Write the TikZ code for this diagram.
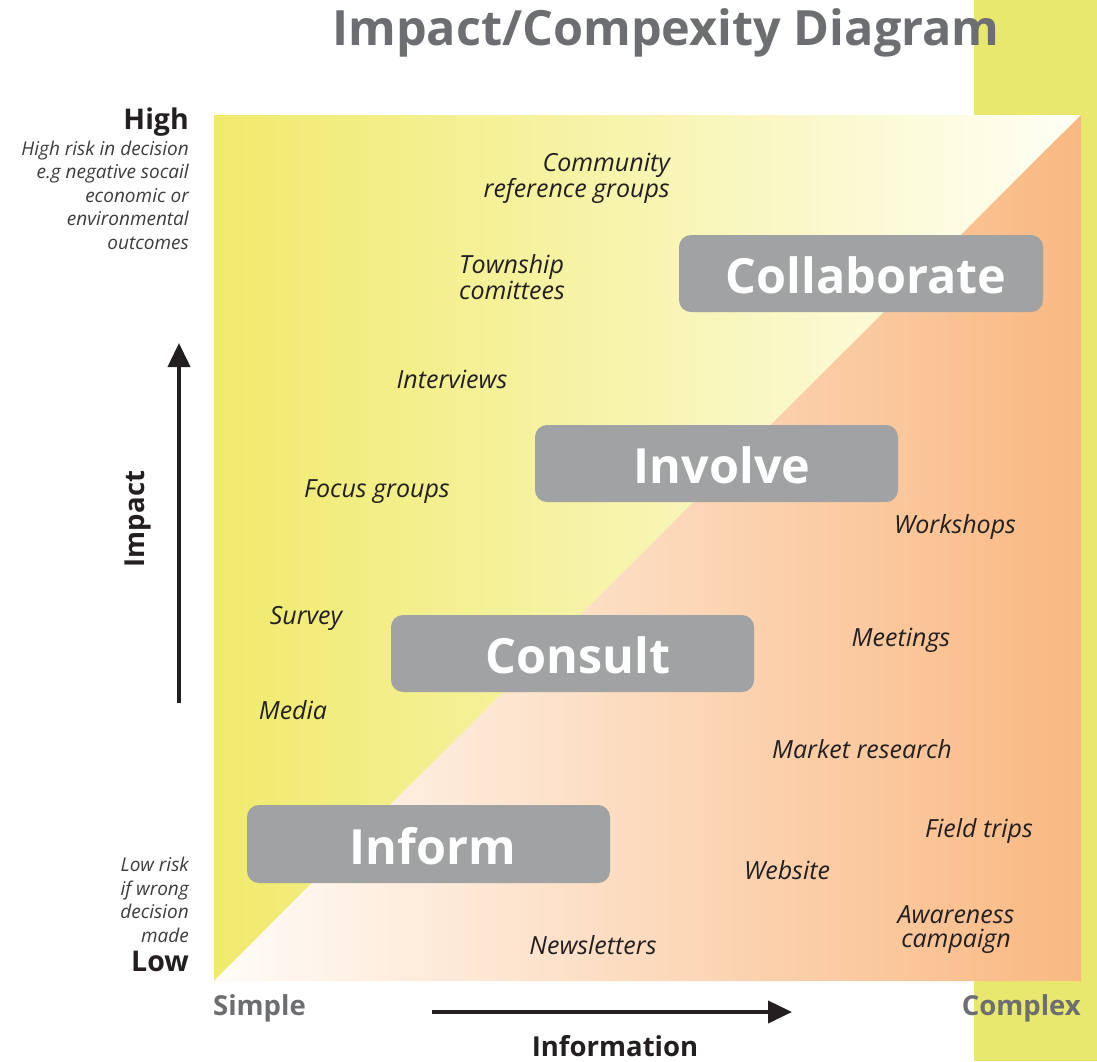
\documentclass[tikz,border=0pt]{standalone}
\usepackage{fontspec}
\setmainfont{Open Sans}
\usetikzlibrary{arrows.meta}
\definecolor{yelL}{RGB}{240,234,108}
\definecolor{yelR}{RGB}{255,255,246}
\definecolor{orL}{RGB}{255,252,248}
\definecolor{orR}{RGB}{249,184,130}
\definecolor{band}{RGB}{232,231,110}
\definecolor{boxgray}{RGB}{160,162,164}
\definecolor{titlegray}{RGB}{109,110,113}
\definecolor{labtext}{RGB}{35,31,32}
\definecolor{sidetext}{RGB}{60,60,60}
\tikzset{
  stagebox/.style={fill=boxgray, rounded corners=12pt, draw=none},
  stagetext/.style={text=white, font=\fontsize{48.5}{50}\selectfont\bfseries, inner sep=0pt},
  method/.style={text=labtext, font=\fontsize{25}{24}\selectfont\itshape, inner sep=0pt},
  sidenote/.style={text=sidetext, font=\fontsize{19}{23.5}\selectfont\itshape, inner sep=0pt, align=right, anchor=east},
  axislabel/.style={font=\fontsize{27.5}{30}\selectfont\bfseries, inner sep=0pt},
  axisarrow/.style={line width=4pt, -{Triangle[length=24pt,width=22pt]}},
}
\begin{document}
\begin{tikzpicture}[x=1pt,y=-1pt]
\useasboundingbox (0,0) rectangle (1097,1061);
% right band
\fill[band] (974,0) rectangle (1097,1061);
% upper-left triangle
\shade[left color=yelL, right color=yelR] (214,115) -- (1081,115) -- (214,981) -- cycle;
% lower-right triangle
\shade[left color=orL, right color=orR] (1081,115) -- (1081,981) -- (214,981) -- cycle;
% title
\node[text=titlegray, font=\fontsize{48.6}{56}\selectfont\bfseries, inner sep=0pt] (title) at (666,33) {Impact/Compexity Diagram};
% stage boxes
\fill[stagebox] (679,235) rectangle (1043,312);
\node[stagetext] (collab) at (866,275) {Collaborate};
\fill[stagebox] (535,425) rectangle (898,502);
\node[stagetext] (involve) at (722,465) {Involve};
\fill[stagebox] (391,615) rectangle (754,692);
\node[stagetext] (consult) at (578,655) {Consult};
\fill[stagebox] (247,805) rectangle (610,883);
\node[stagetext] (inform) at (433,846) {Inform};
% methods
\node[method, align=right, anchor=east] (crg) at (670,178) {Community\\reference groups};
\node[method, align=left, anchor=west] (town) at (459,277) {Township\\comittees};
\node[method] (interv) at (452,379) {Interviews};
\node[method] (focus) at (377,492) {Focus groups};
\node[method] (survey) at (306,618) {Survey};
\node[method] (media) at (293,710) {Media};
\node[method] (work) at (955,527) {Workshops};
\node[method] (meet) at (901,640) {Meetings};
\node[method] (market) at (862,749) {Market research};
\node[method] (field) at (979,831) {Field trips};
\node[method] (web) at (787,870) {Website};
\node[method, align=center] (aware) at (956,930) {Awareness\\campaign};
\node[method] (news) at (593,945) {Newsletters};
% left notes
\node[text=labtext, font=\fontsize{28.5}{30}\selectfont\bfseries, inner sep=0pt, anchor=east] (high) at (189,122) {High};
\node[sidenote] (highnote) at (189,195) {High risk in decision\\e.g negative socail\\economic or\\environmental\\outcomes};
\node[sidenote] (lownote) at (189,900) {Low risk\\if wrong\\decision\\made};
\node[text=labtext, font=\fontsize{28.5}{30}\selectfont\bfseries, inner sep=0pt, anchor=east] (low) at (189,961) {Low};
% impact axis
\coordinate (impA) at (179,703);
\coordinate (impB) at (179,343);
\draw[axisarrow, labtext] (impA) -- (impB);
\node[axislabel, text=labtext, rotate=90] (impact) at (138,519) {Impact};
% information axis
\coordinate (infA) at (432,1012);
\coordinate (infB) at (792,1012);
\draw[axisarrow, labtext] (infA) -- (infB);
\node[axislabel, text=labtext] (info) at (615,1046) {Information};
\node[axislabel, text=titlegray, anchor=west] (simple) at (213,1008) {Simple};
\node[axislabel, text=titlegray, anchor=east] (complex) at (1081,1008) {Complex};
\end{tikzpicture}
\end{document}
